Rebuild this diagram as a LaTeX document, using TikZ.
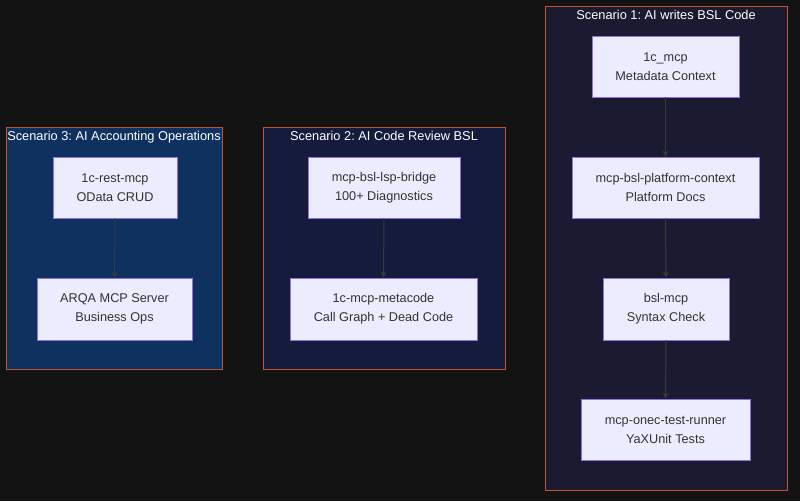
\documentclass[tikz,border=0pt]{standalone}
\usepackage{fontspec}
\setmainfont{Liberation Sans}
\frenchspacing
\usetikzlibrary{arrows.meta}
\definecolor{bgc}{HTML}{131313}
\definecolor{sthree}{HTML}{0E3160}
\definecolor{stwo}{HTML}{151B3D}
\definecolor{sone}{HTML}{1A1A30}
\definecolor{frame}{HTML}{C0562F}
\definecolor{nodefill}{HTML}{ECECFF}
\definecolor{nodeline}{HTML}{9370DB}
\definecolor{txt}{HTML}{333333}
\definecolor{edge}{HTML}{3A3A3A}
\tikzset{
  grp/.style={draw=frame, line width=0.8pt},
  box/.style={draw=nodeline, fill=nodefill, line width=0.8pt, text=txt, align=center, font=\fontsize{12.7}{19}\selectfont, inner sep=0pt},
  grptitle/.style={text=white, font=\fontsize{12.8}{16}\selectfont, anchor=north, inner sep=0pt},
  flow/.style={draw=edge, line width=1pt, -{Stealth[length=6pt,width=6pt]}}
}
\begin{document}
\begin{tikzpicture}[x=1pt,y=-1pt]
\fill[bgc] (0,0) rectangle (800,501);
\useasboundingbox (0,0) rectangle (800,501);
% groups
\draw[grp, fill=sthree] (6,127) rectangle (222,369);
\draw[grp, fill=stwo] (263,127) rectangle (505,369);
\draw[grp, fill=sone] (545,6) rectangle (787,490);
\node[grptitle] (t3) at (114,131) {Scenario 3: AI Accounting Operations};
\node[grptitle] (t2) at (384,131) {Scenario 2: AI Code Review BSL};
\node[grptitle] (t1) at (666,10) {Scenario 1: AI writes BSL Code};
% nodes
\node[box, minimum width=124, minimum height=61] (a1) at (115,187.5) {1c-rest-mcp\\OData CRUD};
\node[box, minimum width=155, minimum height=62] (a2) at (114.5,309) {ARQA MCP Server\\Business Ops};
\node[box, minimum width=152, minimum height=61] (b1) at (384,187.5) {mcp-bsl-lsp-bridge\\100+ Diagnostics};
\node[box, minimum width=187, minimum height=62] (b2) at (383.5,309) {1c-mcp-metacode\\Call Graph + Dead Code};
\node[box, minimum width=147, minimum height=61] (c1) at (665.5,66.5) {1c\_mcp\\Metadata Context};
\node[box, minimum width=187, minimum height=61] (c2) at (665.5,187.5) {mcp-bsl-platform-context\\Platform Docs};
\node[box, minimum width=126, minimum height=62] (c3) at (666,309) {bsl-mcp\\Syntax Check};
\node[box, minimum width=169, minimum height=61] (c4) at (665.5,429.5) {mcp-onec-test-runner\\YaXUnit Tests};
% edges
\draw[flow] (a1) -- (a2);
\draw[flow] (b1) -- (b2);
\draw[flow] (c1) -- (c2);
\draw[flow] (c2) -- (c3);
\draw[flow] (c3) -- (c4);
\end{tikzpicture}
\end{document}
